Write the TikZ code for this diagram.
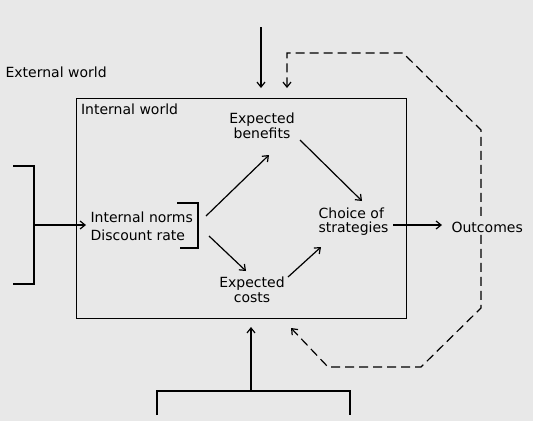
\documentclass[tikz,border=0pt]{standalone}
\usepackage{fontspec}
\setmainfont{DejaVu Sans}
\usetikzlibrary{arrows.meta}
\definecolor{bg}{gray}{0.91}
\begin{document}
\begin{tikzpicture}[x=1pt,y=-1pt, line width=1.2pt,
  lbl/.style={font=\fontsize{14}{15}\selectfont, inner sep=0pt},
  arr/.style={-{Straight Barb[length=5pt,width=8pt]}},
  dsh/.style={dash pattern=on 9pt off 5pt}]
\fill[bg] (0,0) rectangle (533,421);
\useasboundingbox (0,0) rectangle (533,421);
% box
\node[draw, minimum width=330pt, minimum height=220pt, inner sep=0pt, anchor=north west] (box) at (75.5,98) {};
% coordinates
\coordinate (t0) at (261,27); \coordinate (t1) at (261,88);
\coordinate (d0) at (287,88); \coordinate (d1) at (287,53); \coordinate (d2) at (403,53);
\coordinate (d3) at (481,130); \coordinate (d4) at (481,308); \coordinate (d5) at (421,367);
\coordinate (d6) at (328,367); \coordinate (d7) at (291,328);
\coordinate (b0) at (157,415); \coordinate (b1) at (157,391); \coordinate (b2) at (350,391); \coordinate (b3) at (350,415);
\coordinate (bm) at (251,391); \coordinate (bt) at (251,327);
\coordinate (l0) at (13,166); \coordinate (l1) at (34,166); \coordinate (l2) at (34,284); \coordinate (l3) at (13,284);
\coordinate (lm) at (34,225); \coordinate (le) at (86,225);
\coordinate (r0) at (177,203); \coordinate (r1) at (198,203); \coordinate (r2) at (198,248); \coordinate (r3) at (180,248);
\coordinate (nb0) at (206,216); \coordinate (nb1) at (269,155);
\coordinate (nc0) at (209,236); \coordinate (nc1) at (246,271);
\coordinate (bc0) at (300,140); \coordinate (bc1) at (362,201);
\coordinate (cc0) at (288,277); \coordinate (cc1) at (321,247);
\coordinate (co0) at (393,225); \coordinate (co1) at (442,225);
% dashed loop
\draw[dsh, {Straight Barb[length=5pt,width=8pt]}-{Straight Barb[length=5pt,width=8pt]}] (d0) -- (d1) -- (d2) -- (d3) -- (d4) -- (d5) -- (d6) -- (d7);
% labels
\node[lbl, anchor=west] (ext) at (5,72) {External world};
\node[lbl, anchor=west] (intw) at (80.5,109) {Internal world};
\node[lbl, align=center] (ben) at (262,125.5) {Expected\\benefits};
\node[lbl, align=center] (cost) at (252,289.5) {Expected\\costs};
\node[lbl, align=left, anchor=west, font=\fontsize{14}{18}\selectfont] (norms) at (90,226) {Internal norms\\Discount rate};
\node[lbl, align=left, anchor=west, font=\fontsize{14}{14}\selectfont] (choice) at (318,221.5) {Choice of\\strategies};
\node[lbl, anchor=west, fill=bg, inner xsep=0pt, inner ysep=2pt] (out) at (451,227) {Outcomes};
% connectors
\draw[arr] (t0) -- (t1);
\draw (b0) -- (b1) -- (b2) -- (b3);
\draw[arr] (bm) -- (bt);
\draw (l0) -- (l1) -- (l2) -- (l3);
\draw[arr] (lm) -- (le);
\draw (r0) -- (r1) -- (r2) -- (r3);
\draw[arr] (nb0) -- (nb1);
\draw[arr] (nc0) -- (nc1);
\draw[arr] (bc0) -- (bc1);
\draw[arr] (cc0) -- (cc1);
\draw[arr] (co0) -- (co1);
\end{tikzpicture}
\end{document}
